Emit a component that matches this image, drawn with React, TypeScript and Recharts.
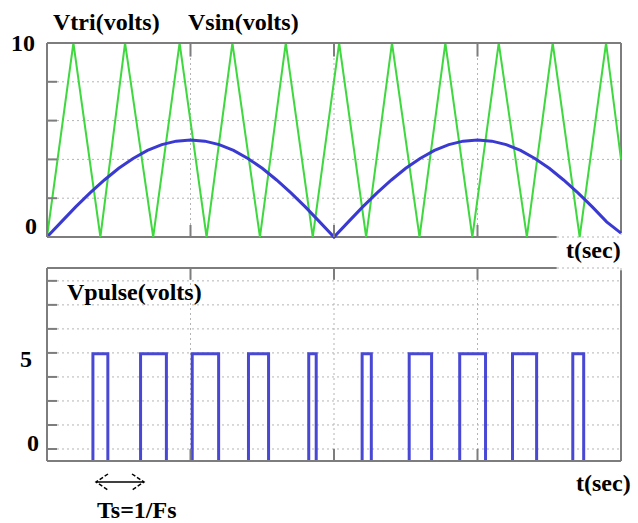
import React from 'react';
import { LineChart, Line, XAxis, YAxis, CartesianGrid, ReferenceLine } from 'recharts';

// time axis is normalised: 0 .. 1 over the whole plot
const timeTicks = [0, 0.25, 0.5, 0.75, 1];
const innerTimeTicks = [0.25, 0.5, 0.75];
const voltTicks = [0, 2, 4, 6, 8, 10];
const pulseTicks = [0.56, 1.68, 2.8, 3.92, 5.04, 6.16, 7.28, 8.4];

// carrier (triangle) corners
const triTimes = [0, 0.046, 0.093, 0.136, 0.185, 0.231, 0.278, 0.323, 0.371, 0.416, 0.463, 0.509, 0.556, 0.601, 0.649, 0.694, 0.741, 0.787, 0.836, 0.881, 0.928, 0.974, 1];
const triVolts = [0, 10, 0, 10, 0, 10, 0, 10, 0, 10, 0, 10, 0, 10, 0, 10, 0, 10, 0, 10, 0, 10, 4];

// rectified sine, read every 0.025
const sinTimes = [0, 0.025, 0.05, 0.075, 0.1, 0.125, 0.15, 0.175, 0.2, 0.225, 0.25, 0.275, 0.3, 0.325, 0.35, 0.375, 0.4, 0.425, 0.45, 0.475, 0.5, 0.525, 0.55, 0.575, 0.6, 0.625, 0.65, 0.675, 0.7, 0.725, 0.75, 0.775, 0.8, 0.825, 0.85, 0.875, 0.9, 0.925, 0.95, 0.975, 1];
const sinVolts = [0, 0.78, 1.55, 2.27, 2.94, 3.54, 4.05, 4.46, 4.76, 4.94, 5.0, 4.94, 4.76, 4.46, 4.05, 3.54, 2.94, 2.27, 1.55, 0.78, 0, 0.78, 1.55, 2.27, 2.94, 3.54, 4.05, 4.46, 4.76, 4.94, 5.0, 4.94, 4.76, 4.46, 4.05, 3.54, 2.94, 2.27, 1.55, 0.78, 0.2];

// pulse edges
const pulseOn = [0.080, 0.163, 0.253, 0.351, 0.456, 0.549, 0.631, 0.719, 0.811, 0.916];
const pulseOff = [0.106, 0.208, 0.299, 0.386, 0.469, 0.565, 0.670, 0.764, 0.853, 0.935];
const pulseHigh = 5;

const triData = triTimes.map((t, i) => ({ t, v: triVolts[i] }));
const sinData = sinTimes.map((t, i) => ({ t, v: sinVolts[i] }));
const pulseData: { t: number; v: number | null }[] = [];
pulseOn.forEach((on, i) => {
  const off = pulseOff[i];
  pulseData.push({ t: on, v: 0 }, { t: on, v: pulseHigh }, { t: off, v: pulseHigh }, { t: off, v: 0 }, { t: (off + (pulseOn[i + 1] ?? 1)) / 2, v: null });
});

const FONT = '"Liberation Serif", "Times New Roman", serif';
const BORDER = '#7d7d7d';
const GRID = '#b4b4b4';

type Lab = { text: string; dx: number; dy: number };
const topYLabels: Record<string, Lab> = { '10': { text: '10', dx: -12, dy: 0 }, '0': { text: '0', dx: -10, dy: -11 } };
const bottomYLabels: Record<string, Lab> = { '5.04': { text: '5', dx: -15, dy: 6 }, '0.56': { text: '0', dx: -8, dy: -6 } };

const textStyle: React.CSSProperties = { fontFamily: FONT, fontWeight: 'bold', fontSize: 24, fill: '#000' };

const yTick = (labels: Record<string, Lab>) => (props: any) => {
  const { x, y, payload } = props;
  const lab = labels[String(payload.value)];
  return (
    <g>
      <line x1={x} y1={y} x2={x + 10} y2={y} stroke={BORDER} strokeWidth={2} />
      {lab && (
        <text x={x + lab.dx} y={y + lab.dy} textAnchor="end" dominantBaseline="central" style={textStyle}>{lab.text}</text>
      )}
    </g>
  );
};

const xTick = (props: any) => {
  const { x, y, payload } = props;
  if (payload.value <= 0 || payload.value >= 1) return <g />;
  return <line x1={x} y1={y} x2={x} y2={y - 12} stroke={BORDER} strokeWidth={2} />;
};

export default function App() {
  return (
    <div style={{ position: 'absolute', left: 0, top: 0, width: 638, height: 523, background: '#fff' }}>
      <div style={{ position: 'absolute', left: 0, top: 0 }}>
        <LineChart width={638} height={250} margin={{ top: 33, right: 17, bottom: 3, left: 17 }}>
          <CartesianGrid stroke={GRID} strokeDasharray="2 3" />
          <XAxis dataKey="t" type="number" domain={[0, 1]} ticks={timeTicks} interval={0} height={10}
            axisLine={false} tickLine={false} tickSize={0} tickMargin={0} tick={xTick} />
          <XAxis xAxisId="top" orientation="top" type="number" domain={[0, 1]} ticks={timeTicks} height={10}
            axisLine={{ stroke: BORDER, strokeWidth: 2 }} tickLine={false} tick={false} />
          <YAxis type="number" domain={[0, 10]} ticks={voltTicks} interval={0} width={30}
            axisLine={{ stroke: BORDER, strokeWidth: 2 }} tickLine={false} tickSize={0} tickMargin={0} tick={yTick(topYLabels)} />
          <ReferenceLine segment={[{ x: 0, y: 0 }, { x: 0.888, y: 0 }]} stroke={BORDER} strokeWidth={2} />
          <ReferenceLine segment={[{ x: 1, y: 0.2 }, { x: 1, y: 10 }]} stroke={BORDER} strokeWidth={2} />
          {innerTimeTicks.map((t) => (
            <ReferenceLine key={t} segment={[{ x: t, y: 10 }, { x: t, y: 9.3 }]} stroke={BORDER} strokeWidth={2} />
          ))}
          <Line data={triData} dataKey="v" type="linear" stroke="#3fd83f" strokeWidth={2} dot={false} isAnimationActive={false} />
          <Line data={sinData} dataKey="v" type="linear" stroke="#3a3ad2" strokeWidth={3} dot={false} isAnimationActive={false} />
        </LineChart>
      </div>
      <div style={{ position: 'absolute', left: 0, top: 250 }}>
        <LineChart width={638} height={273} margin={{ top: 18, right: 17, bottom: 52, left: 17 }}>
          <CartesianGrid stroke={GRID} strokeDasharray="2 3" />
          <XAxis dataKey="t" type="number" domain={[0, 1]} ticks={timeTicks} interval={0} height={10}
            axisLine={{ stroke: BORDER, strokeWidth: 2 }} tickLine={false} tickSize={0} tickMargin={0} tick={xTick} />
          <YAxis type="number" domain={[0, 9]} ticks={pulseTicks} interval={0} width={30}
            axisLine={{ stroke: BORDER, strokeWidth: 2 }} tickLine={false} tickSize={0} tickMargin={0} tick={yTick(bottomYLabels)} />
          <ReferenceLine segment={[{ x: 0, y: 9 }, { x: 0.888, y: 9 }]} stroke={BORDER} strokeWidth={2} />
          <ReferenceLine segment={[{ x: 1, y: 0 }, { x: 1, y: 8.9 }]} stroke={BORDER} strokeWidth={2} />
          {innerTimeTicks.map((t) => (
            <ReferenceLine key={t} segment={[{ x: t, y: 9 }, { x: t, y: 8.45 }]} stroke={BORDER} strokeWidth={2} />
          ))}
          <Line data={pulseData} dataKey="v" type="linear" stroke="#4848d4" strokeWidth={3} dot={false} connectNulls={false} isAnimationActive={false} />
        </LineChart>
      </div>
      <svg width={638} height={523} style={{ position: 'absolute', left: 0, top: 0, pointerEvents: 'none' }}>
        <text x={53} y={22} dominantBaseline="central" style={textStyle}>Vtri(volts)</text>
        <text x={188} y={22} dominantBaseline="central" style={textStyle}>Vsin(volts)</text>
        <text x={566} y={250} dominantBaseline="central" style={textStyle}>t(sec)</text>
        <text x={67} y={292} dominantBaseline="central" style={textStyle}>Vpulse(volts)</text>
        <text x={576} y={483} dominantBaseline="central" style={textStyle}>t(sec)</text>
        <text x={97} y={510} dominantBaseline="central" style={textStyle}>Ts=1/Fs</text>
        <g stroke="#000" strokeWidth={1.5} fill="none">
          <line x1={96} y1={482} x2={144} y2={482} />
          <path d="M108,474 L96,482 L108,490" strokeDasharray="4 2" />
          <path d="M132,474 L144,482 L132,490" strokeDasharray="4 2" />
        </g>
      </svg>
    </div>
  );
}
